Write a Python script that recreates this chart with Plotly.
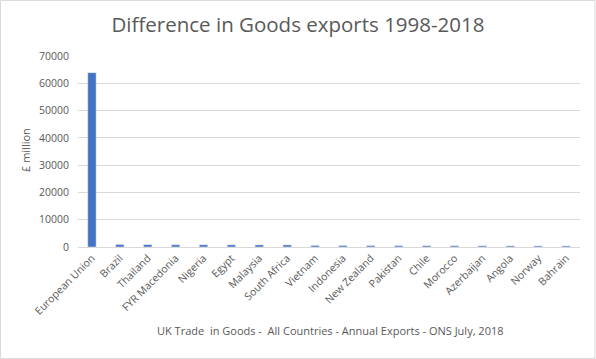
import plotly.graph_objects as go

categories = ["European Union", "Brazil", "Thailand", "FYR Macedonia", "Nigeria", "Egypt",
              "Malaysia", "South Africa", "Vietnam", "Indonesia", "New Zealand", "Pakistan",
              "Chile", "Morocco", "Azerbaijan", "Angola", "Norway", "Bahrain"]
values = [63900, 900, 860, 830, 810, 790, 770, 750, 560, 530, 510, 490, 470, 450, 430, 410, 400, 390]

grey = "#595959"
font = "Open Sans"

fig = go.Figure(go.Bar(x=categories, y=values, marker_color="#4472C4", width=0.3))

fig.update_layout(
    width=596, height=359,
    margin=dict(l=78, r=16, t=56, b=112, autoexpand=False),
    paper_bgcolor="white", plot_bgcolor="white",
    showlegend=False,
    title=dict(text="Difference in Goods exports 1998-2018", x=0.5, xanchor="center",
               y=1 - 25/359, yanchor="middle",
               font=dict(family=font, size=20.5, color=grey)),
    font=dict(family=font, color=grey, size=10),
    xaxis=dict(tickangle=-45, showgrid=False, showline=True, linecolor="#D9D9D9",
               ticks="", tickfont=dict(size=10.5, color=grey), automargin=False),
    yaxis=dict(range=[0, 70000], dtick=10000, tickformat="d", showgrid=True, gridcolor="#D9D9D9",
               zeroline=False, showline=False, ticks="", tickfont=dict(size=10.5, color=grey),
               ticklabelstandoff=8, automargin=False),
    annotations=[
        dict(text="UK Trade  in Goods -  All Countries - Annual Exports - ONS July, 2018",
             xref="paper", yref="paper", x=(330-78)/502, y=-(330-247)/191, xanchor="center",
             yanchor="middle", showarrow=False, font=dict(size=11, color=grey)),
        dict(text="£ million", xref="paper", yref="paper", x=-(78-25)/502, y=(247-150)/191,
             xanchor="center", yanchor="middle", textangle=-90, showarrow=False,
             font=dict(size=11, color=grey)),
    ],
    shapes=[dict(type="rect", xref="paper", yref="paper", x0=-78/502 + 0.001, x1=1+16/502 - 0.002,
                 y0=-112/191 + 0.003, y1=1+56/191 - 0.003, line=dict(color="#D9D9D9", width=1))],
)

fig.write_html("out.html", config={"displayModeBar": False},
               post_script="document.body.style.margin='0';")
